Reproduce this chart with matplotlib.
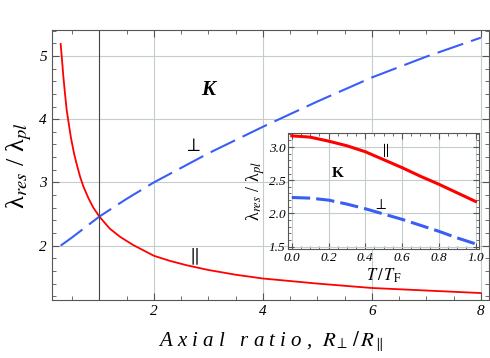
import numpy as np
import matplotlib
matplotlib.use("Agg")
import matplotlib.pyplot as plt
from matplotlib.ticker import MultipleLocator, FormatStrFormatter

plt.rcParams['font.family'] = ['Liberation Serif', 'DejaVu Serif']
plt.rcParams['mathtext.fontset'] = 'stix'

# main panel: lambda_res / lambda_pl vs axial ratio
ratio = [0.29, 0.31, 0.34, 0.37, 0.40, 0.44, 0.48, 0.54, 0.59, 0.65, 0.71, 0.80,
         0.89, 1.0, 1.19, 1.38, 1.62, 2.0, 2.29, 2.6, 3.0, 3.5, 4.0, 5.0, 6.0, 7.0, 8.0]
par_main = [5.19, 4.99, 4.67, 4.40, 4.15, 3.92, 3.70, 3.44, 3.27, 3.08, 2.93, 2.75,
            2.60, 2.46, 2.27, 2.14, 2.01, 1.84, 1.76, 1.69, 1.615, 1.54, 1.48, 1.40, 1.33, 1.29, 1.25]
ratio_perp = [0.29, 0.5, 1.0, 1.5, 2.0, 3.0, 4.0, 5.0, 6.0, 7.0, 8.0]
perp_main = [2.0, 2.13, 2.46, 2.74, 3.0, 3.46, 3.88, 4.28, 4.66, 4.99, 5.29]

# inset: temperature dependence
temp = [0.0, 0.1, 0.2, 0.3, 0.4, 0.5, 0.6, 0.7, 0.8, 0.9, 1.0]
par_inset = [3.17, 3.15, 3.09, 3.02, 2.93, 2.81, 2.69, 2.56, 2.44, 2.31, 2.18]
perp_inset = [2.24, 2.23, 2.20, 2.14, 2.07, 1.99, 1.91, 1.82, 1.73, 1.63, 1.54]

red = '#ff0000'
blue = '#3a5ef5'
grid_c = '#c5cccc'
spine_c = '#555555'
ylab = r'λ$_{res}$ / λ$_{pl}$'

fig = plt.figure(figsize=(4.9, 3.58), dpi=100)
ax = fig.add_axes([0.106, 0.162, 0.892, 0.754])

ax.plot(ratio, par_main, color=red, lw=1.3)
ax.plot(ratio_perp, perp_main, color=blue, lw=1.5, dashes=(13, 4))
ax.axvline(1.0, color='#444444', lw=0.8)

ax.set_xlim(0.13, 8.15)
ax.set_ylim(1.14, 5.41)
ax.xaxis.set_major_locator(MultipleLocator(2))
ax.xaxis.set_minor_locator(MultipleLocator(0.5))
ax.yaxis.set_major_locator(MultipleLocator(1))
ax.yaxis.set_minor_locator(MultipleLocator(0.2))
ax.grid(True, which='major', color=grid_c, lw=0.8)
ax.set_axisbelow(True)
ax.tick_params(which='both', direction='in', top=True, right=True, color=spine_c, labelsize=11)
ax.tick_params(which='major', length=5)
ax.tick_params(which='minor', length=3)
for s in ax.spines.values():
    s.set_color(spine_c)

ax.set_xlabel(r'A x i a l   r a t i o ,  $R_{\perp}\,/\,R_{\parallel}$', fontsize=15,
              style='italic', labelpad=8)
ax.set_ylabel(ylab, fontsize=19, labelpad=4)

ax.text(3.0, 4.46, 'K', fontsize=15, fontweight='bold', style='italic', ha='center', va='center')
ax.text(2.72, 3.57, r'$\perp$', fontsize=14, ha='center', va='center')
ax.text(2.72, 1.83, r'$\parallel$', fontsize=14, ha='center', va='center')

# inset
ins = fig.add_axes([0.588, 0.304, 0.390, 0.324])
ins.plot(temp, par_inset, color=red, lw=2.2)
ins.plot(temp, perp_inset, color=blue, lw=2.2, dashes=(6, 2))
ins.set_xlim(-0.02, 1.02)
ins.set_ylim(1.46, 3.21)
ins.xaxis.set_major_locator(MultipleLocator(0.2))
ins.yaxis.set_major_locator(MultipleLocator(0.5))
ins.xaxis.set_minor_locator(MultipleLocator(0.05))
ins.yaxis.set_minor_locator(MultipleLocator(0.1))
ins.xaxis.set_major_formatter(FormatStrFormatter('%.1f'))
ins.yaxis.set_major_formatter(FormatStrFormatter('%.1f'))
ins.grid(True, which='major', color=grid_c, lw=0.8)
ins.set_axisbelow(True)
ins.tick_params(which='both', direction='in', top=True, right=True, color=spine_c, labelsize=9.5, pad=2)
ins.tick_params(which='major', length=4)
ins.tick_params(which='minor', length=2)
for s in ins.spines.values():
    s.set_color(spine_c)
ins.set_xlabel(r'$T\,/\,T_{\mathrm{F}}$', fontsize=12, labelpad=2)
ins.set_ylabel(ylab, fontsize=13, labelpad=1)

ins.text(0.25, 2.6, 'K', fontsize=11, fontweight='bold', ha='center', va='center')
ins.text(0.505, 2.96, r'$\parallel$', fontsize=11, ha='center', va='center')
ins.text(0.48, 2.13, r'$\perp$', fontsize=11, ha='center', va='center')

# italic tick labels (set after a first draw so the tick objects exist)
fig.canvas.draw()
for a in (ax, ins):
    for lab in a.get_xticklabels() + a.get_yticklabels():
        lab.set_fontstyle('italic')

fig.savefig('out.png', dpi=100)
